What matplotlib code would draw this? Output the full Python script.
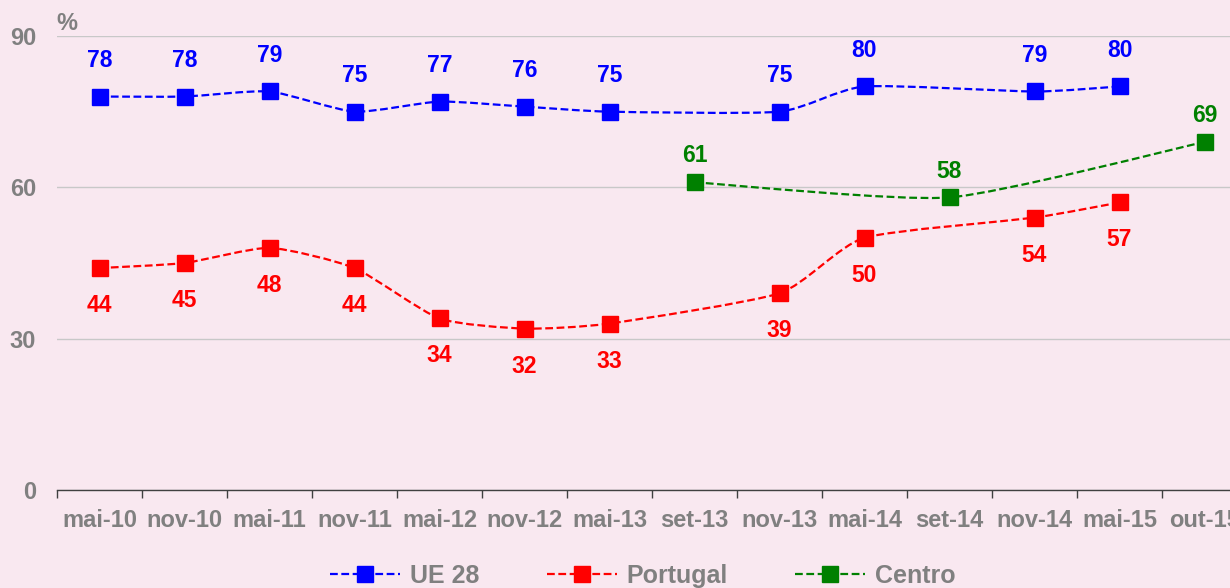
import matplotlib
matplotlib.use("Agg")
import matplotlib.pyplot as plt
from matplotlib.path import Path
from matplotlib.patches import PathPatch
from matplotlib.lines import Line2D
import numpy as np

plt.rcParams['font.family'] = ['Liberation Sans', 'DejaVu Sans']

# --- Survey waves and series values ---
waves = ["mai-10", "nov-10", "mai-11", "nov-11", "mai-12", "nov-12", "mai-13",
         "set-13", "nov-13", "mai-14", "set-14", "nov-14", "mai-15", "out-15"]

ue28_idx = [0, 1, 2, 3, 4, 5, 6, 8, 9, 11, 12]
ue28_val = [78, 78, 79, 75, 77, 76, 75, 75, 80, 79, 80]

pt_idx = [0, 1, 2, 3, 4, 5, 6, 8, 9, 11, 12]
pt_val = [44, 45, 48, 44, 34, 32, 33, 39, 50, 54, 57]

centro_idx = [7, 10, 13]
centro_val = [61, 58, 69]

BG = "#F9E8F0"
GREY = "#808080"

fig = plt.figure(figsize=(12.3, 5.88), dpi=100, facecolor=BG)
# axes runs past the right edge so the last category sits near the border
ax = fig.add_axes([57 / 1230, 1 - 490 / 588, 1190 / 1230, 454 / 588])
ax.set_facecolor(BG)


def smooth_path(xs, ys, k=1 / 10):
    # gently smoothed line: cubic Bezier segments with Catmull-Rom tangents
    pts = np.column_stack([xs, ys]).astype(float)
    verts = [pts[0]]
    codes = [Path.MOVETO]
    n = len(pts)
    for i in range(n - 1):
        p0 = pts[i - 1] if i > 0 else pts[i]
        p1 = pts[i]
        p2 = pts[i + 1]
        p3 = pts[i + 2] if i + 2 < n else pts[i + 1]
        c1 = p1 + (p2 - p0) * k
        c2 = p2 - (p3 - p1) * k
        verts += [c1, c2, p2]
        codes += [Path.CURVE4] * 3
    return Path(verts, codes)


series = [
    ("UE 28", ue28_idx, ue28_val, "#0000FF", 26),
    ("Portugal", pt_idx, pt_val, "#FF0000", -27),
    ("Centro", centro_idx, centro_val, "#008000", 19),
]

handles = []
for name, idx, vals, color, off in series:
    patch = PathPatch(smooth_path(idx, vals), facecolor="none", edgecolor=color,
                      lw=1.6, linestyle=(0, (3.5, 1.6)), zorder=3)
    ax.add_patch(patch)
    ax.plot(idx, vals, linestyle="none", marker="s", markersize=11.5,
            color=color, zorder=4)
    for x, v in zip(idx, vals):
        ax.annotate(str(v), (x, v), xytext=(0, off), textcoords="offset points",
                    ha="center", va="center", fontsize=16.5, fontweight="bold",
                    color=color, zorder=5)
    handles.append(Line2D([], [], color=color, lw=1.6, linestyle=(0, (3.5, 1.6)),
                          marker="s", markersize=11.5, label=name))

ax.set_xlim(-0.5, 13.5)
ax.set_ylim(0, 90)
ax.set_yticks([0, 30, 60, 90])
ax.yaxis.grid(True, color="#C8C8C8", lw=1)
ax.set_axisbelow(True)

ax.set_xticks(np.arange(len(waves)))
ax.set_xticklabels(waves)
ax.set_xticks(np.arange(len(waves)) - 0.5, minor=True)
ax.tick_params(axis="x", which="major", length=0, pad=14, labelsize=17,
               labelcolor=GREY)
ax.tick_params(axis="x", which="minor", length=6, width=1, color="#404040",
               direction="out")
for lbl in ax.get_xticklabels():
    lbl.set_fontweight("bold")
ax.tick_params(axis="y", length=0, pad=15, labelsize=17, labelcolor=GREY)
for lbl in ax.get_yticklabels():
    lbl.set_fontweight("bold")

for s in ["left", "right", "top"]:
    ax.spines[s].set_visible(False)
ax.spines["bottom"].set_color("#404040")
ax.spines["bottom"].set_linewidth(1)

fig.text(56 / 1230, 1 - 24 / 588, "%", ha="left", va="center", fontsize=17,
         fontweight="bold", color=GREY)

leg = fig.legend(handles=handles, loc="center", bbox_to_anchor=(643 / 1230, 1 - 576 / 588),
                 ncol=3, frameon=False, handlelength=2.8, columnspacing=2.7,
                 handletextpad=0.4, prop={"size": 18, "weight": "bold"})
for t in leg.get_texts():
    t.set_color(GREY)

fig.savefig("out.png", dpi=100, facecolor=BG)
